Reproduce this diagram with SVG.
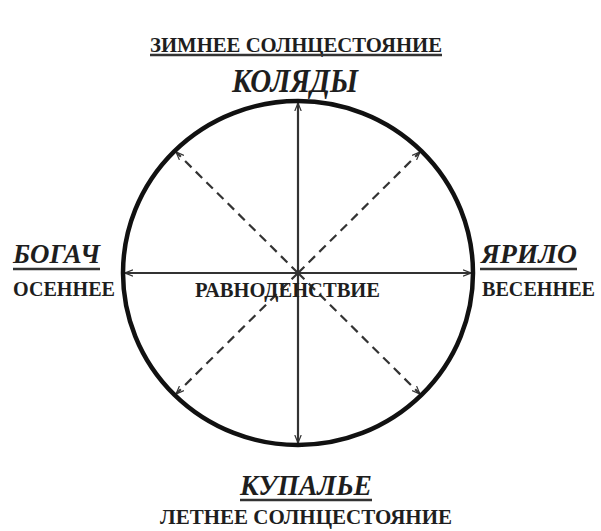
<svg xmlns="http://www.w3.org/2000/svg" width="601" height="531" viewBox="0 0 601 531">
<defs>
<style>
.t{font-family:"Liberation Serif","Times New Roman",serif;font-weight:bold;fill:#1e1e1e}
.i{font-style:italic}
.ul{stroke:#333;stroke-width:2.5}
.solid{stroke:#333;stroke-width:2.2;fill:none}
.dash{stroke:#333;stroke-width:2.2;stroke-dasharray:9 6;fill:none}
</style>
<marker id="ah" viewBox="0 0 10 10" refX="10" refY="5" markerWidth="8" markerHeight="8" markerUnits="userSpaceOnUse" orient="auto">
<path d="M0,1 L10,5 L0,9" fill="none" stroke="#333" stroke-width="1.5"/>
</marker>
</defs>
<rect width="601" height="531" fill="#ffffff"/>
<g id="connectors">
<line class="solid" x1="298" y1="273" x2="298" y2="103" marker-end="url(#ah)"/>
<line class="solid" x1="298" y1="273" x2="298" y2="443" marker-end="url(#ah)"/>
<line class="solid" x1="298" y1="273" x2="125" y2="273" marker-end="url(#ah)"/>
<line class="solid" x1="298" y1="273" x2="471" y2="273" marker-end="url(#ah)"/>
<line class="dash" x1="298" y1="273" x2="176" y2="152" marker-end="url(#ah)"/>
<line class="dash" x1="298" y1="273" x2="420" y2="152" marker-end="url(#ah)"/>
<line class="dash" x1="298" y1="273" x2="176" y2="394" marker-end="url(#ah)"/>
<line class="dash" x1="298" y1="273" x2="420" y2="394" marker-end="url(#ah)"/>
</g>
<g id="circle">
<ellipse cx="298" cy="273" rx="175" ry="172" fill="none" stroke="#111" stroke-width="4.5"/>
</g>
<g id="winter">
<text class="t" x="296" y="52" font-size="20.5" text-anchor="middle" textLength="292" lengthAdjust="spacingAndGlyphs">ЗИМНЕЕ СОЛНЦЕСТОЯНИЕ</text>
<line class="ul" x1="150" y1="55" x2="442" y2="55"/>
<text class="t i" x="295" y="92" font-size="33" text-anchor="middle" textLength="126" lengthAdjust="spacingAndGlyphs">КОЛЯДЫ</text>
</g>
<g id="autumn">
<text class="t i" x="13" y="263" font-size="27" textLength="87" lengthAdjust="spacingAndGlyphs">БОГАЧ</text>
<line class="ul" x1="13" y1="269" x2="100" y2="269"/>
<text class="t" x="13" y="296" font-size="20.5" textLength="102" lengthAdjust="spacingAndGlyphs">ОСЕННЕЕ</text>
</g>
<g id="spring">
<text class="t i" x="481" y="263" font-size="27" textLength="96" lengthAdjust="spacingAndGlyphs">ЯРИЛО</text>
<line class="ul" x1="480" y1="269" x2="577" y2="269"/>
<text class="t" x="482" y="296" font-size="20.5" textLength="113" lengthAdjust="spacingAndGlyphs">ВЕСЕННЕЕ</text>
</g>
<g id="equinox">
<text class="t" x="195" y="297" font-size="20.5" textLength="185" lengthAdjust="spacingAndGlyphs">РАВНОДЕНСТВИЕ</text>
</g>
<g id="summer">
<text class="t i" x="306" y="495" font-size="30" text-anchor="middle" textLength="132" lengthAdjust="spacingAndGlyphs">КУПАЛЬЕ</text>
<line class="ul" x1="240" y1="500" x2="372" y2="500"/>
<text class="t" x="306" y="524" font-size="20.5" text-anchor="middle" textLength="292" lengthAdjust="spacingAndGlyphs">ЛЕТНЕЕ СОЛНЦЕСТОЯНИЕ</text>
</g>
</svg>
